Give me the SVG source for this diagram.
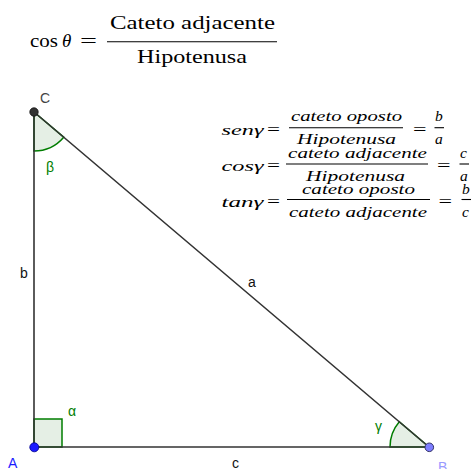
<svg xmlns="http://www.w3.org/2000/svg" width="473" height="469" viewBox="0 0 473 469">
<style>
.edge{stroke:#333;stroke-width:1.6;fill:none;stroke-linecap:round}
.ang{fill:#e5efe5;stroke:#007d00;stroke-width:1.5}
.gl{font-family:"Liberation Sans",Arial,sans-serif;font-size:14px;fill:#007d00}
.lbl{font-family:"Liberation Sans",Arial,sans-serif;font-size:14px;fill:#111}
.m{font-family:"Liberation Serif","Times New Roman",serif;font-size:19px;fill:#000}
.mi{font-family:"Liberation Serif","Times New Roman",serif;font-size:15.5px;font-style:italic;fill:#000}
.mu{font-family:"Liberation Serif","Times New Roman",serif;font-size:16px;fill:#000}
.fr{stroke:#000;stroke-width:1.1}
</style>
<rect width="473" height="469" fill="#fff"/>
<g id="formula-top">
<text class="m" x="30" y="47" textLength="28" lengthAdjust="spacingAndGlyphs">cos</text>
<text class="m" x="62" y="47" font-style="italic">θ</text>
<text class="m" x="80" y="47" textLength="17" lengthAdjust="spacingAndGlyphs">=</text>
<text class="m" x="110" y="29" textLength="165" lengthAdjust="spacingAndGlyphs">Cateto adjacente</text>
<line class="fr" x1="107" y1="41.7" x2="277" y2="41.7"/>
<text class="m" x="137" y="63" textLength="110" lengthAdjust="spacingAndGlyphs">Hipotenusa</text>
</g>
<g id="formula-sen">
<text class="mi" x="221.5" y="135" textLength="42" lengthAdjust="spacingAndGlyphs">senγ</text>
<text class="mu" x="267" y="135" textLength="13" lengthAdjust="spacingAndGlyphs">=</text>
<text class="mi" x="291" y="121" textLength="111" lengthAdjust="spacingAndGlyphs">cateto oposto</text>
<line class="fr" x1="289" y1="127.7" x2="403" y2="127.7"/>
<text class="mi" x="297" y="144" textLength="99" lengthAdjust="spacingAndGlyphs">Hipotenusa</text>
<text class="mu" x="413" y="135" textLength="13.5" lengthAdjust="spacingAndGlyphs">=</text>
<text class="mi" x="435" y="121">b</text>
<line class="fr" x1="434.5" y1="127.7" x2="444" y2="127.7"/>
<text class="mi" x="435" y="144">a</text>
</g>
<g id="formula-cos">
<text class="mi" x="221.5" y="171" textLength="42" lengthAdjust="spacingAndGlyphs">cosγ</text>
<text class="mu" x="267" y="171" textLength="13" lengthAdjust="spacingAndGlyphs">=</text>
<text class="mi" x="288" y="158" textLength="139" lengthAdjust="spacingAndGlyphs">cateto adjacente</text>
<line class="fr" x1="286" y1="164" x2="428" y2="164"/>
<text class="mi" x="306" y="180.5" textLength="99" lengthAdjust="spacingAndGlyphs">Hipotenusa</text>
<text class="mu" x="437" y="171" textLength="13.5" lengthAdjust="spacingAndGlyphs">=</text>
<text class="mi" x="460" y="158">c</text>
<line class="fr" x1="459.5" y1="164" x2="469" y2="164"/>
<text class="mi" x="460" y="180.5">a</text>
</g>
<g id="formula-tan">
<text class="mi" x="221.5" y="207" textLength="42" lengthAdjust="spacingAndGlyphs">tanγ</text>
<text class="mu" x="267" y="207" textLength="13" lengthAdjust="spacingAndGlyphs">=</text>
<text class="mi" x="302" y="193.5" textLength="113" lengthAdjust="spacingAndGlyphs">cateto oposto</text>
<line class="fr" x1="287" y1="199.5" x2="430" y2="199.5"/>
<text class="mi" x="289" y="216.5" textLength="138" lengthAdjust="spacingAndGlyphs">cateto adjacente</text>
<text class="mu" x="438.5" y="207" textLength="13.5" lengthAdjust="spacingAndGlyphs">=</text>
<text class="mi" x="462" y="193.5">b</text>
<line class="fr" x1="461.5" y1="199.5" x2="471" y2="199.5"/>
<text class="mi" x="462" y="216.5">c</text>
</g>
<g id="angles">
<path id="angle-alpha" class="ang" d="M34,447 V419 H62 V447 Z"/>
<path id="angle-beta" class="ang" d="M34,112 L34,151 A39,39 0 0 0 63.7,137.2 Z"/>
<path id="angle-gamma" class="ang" d="M429,447 L390,447 A39,39 0 0 1 399.3,421.8 Z"/>
</g>
<g id="connectors">
<line id="side-b" class="edge" x1="34" y1="112" x2="34" y2="447"/>
<line id="side-c" class="edge" x1="34" y1="447" x2="429" y2="447"/>
<line id="side-a" class="edge" x1="34" y1="112" x2="429" y2="447"/>
</g>
<g id="labels">
<text class="gl" x="68" y="416">α</text>
<text class="gl" x="46" y="172">β</text>
<text class="gl" x="375" y="431">γ</text>
<text class="lbl" x="20" y="278">b</text>
<text class="lbl" x="248" y="287">a</text>
<text class="lbl" x="232" y="468">c</text>
</g>
<g id="node-C">
<circle cx="34" cy="112" r="4.2" fill="#333" stroke="#111" stroke-width="0.8"/>
<text x="40" y="103" font-family="Liberation Sans,Arial,sans-serif" font-size="14" fill="#444">C</text>
</g>
<g id="node-A">
<circle cx="34.3" cy="447.3" r="4.5" fill="#1a1aff" stroke="#00008b" stroke-width="0.8"/>
<text x="8" y="468" font-family="Liberation Sans,Arial,sans-serif" font-size="14" fill="#1a1aff">A</text>
</g>
<g id="node-B">
<circle cx="429.3" cy="447.3" r="4.3" fill="#7d7dff" stroke="#333366" stroke-width="1"/>
<text x="438" y="472" font-family="Liberation Sans,Arial,sans-serif" font-size="14" fill="#9a9aff">B</text>
</g>
</svg>
